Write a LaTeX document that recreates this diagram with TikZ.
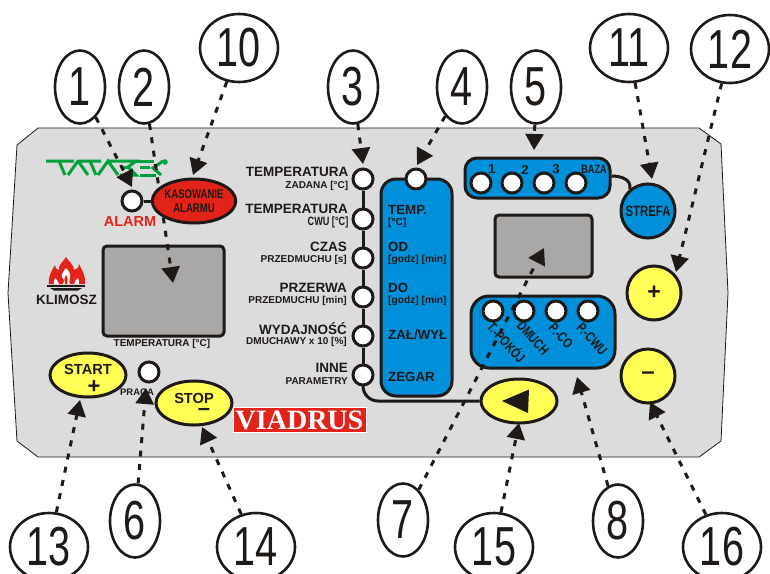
\documentclass[tikz,border=0pt]{standalone}
\usepackage{fontspec}
\setmainfont{Liberation Sans}
\newfontfamily\condf[FakeStretch=0.76]{Liberation Sans}
\newfontfamily\numf[FakeStretch=0.72]{Liberation Sans}
\newfontfamily\viaf{Liberation Serif}
\usetikzlibrary{shapes.geometric,arrows.meta}
\definecolor{ink}{HTML}{1F1A17}
\definecolor{panelc}{HTML}{DCDCDC}
\definecolor{bluec}{HTML}{0090DA}
\definecolor{yell}{HTML}{FFFF55}
\definecolor{redc}{HTML}{E2231A}
\definecolor{disp}{HTML}{A9A8A6}
\definecolor{greenc}{HTML}{00A03C}
\newcommand{\fs}[1]{\fontsize{#1}{#1}\selectfont}
\tikzset{
  callout/.style={draw=ink,line width=2.6pt,ellipse,inner sep=0pt,minimum width=50pt,minimum height=73pt,font=\numf\fs{55},text=ink},
  callwide/.style={callout,minimum width=78pt,minimum height=68pt},
  led/.style={circle,draw=ink,fill=white,line width=3pt,inner sep=0pt,minimum size=20pt},
  wire/.style={draw=ink,line width=3pt},
  bluebox/.style={draw=ink,fill=bluec,line width=3pt,inner sep=0pt},
  screen/.style={draw=ink,fill=disp,line width=3pt,inner sep=0pt,rounded corners=4pt},
  yellow oval/.style={ellipse,draw=ink,fill=yell,line width=3pt,inner sep=0pt,minimum width=76pt,minimum height=44pt},
  yellow disc/.style={circle,draw=ink,fill=yell,line width=3pt,inner sep=0pt,minimum size=54pt},
  pointer/.style={draw=ink,line width=3pt,dash pattern=on 6pt off 7.5pt,-{Triangle[length=16pt,width=18pt,fill=ink]}},
  main label/.style={anchor=east,inner sep=0pt,text=ink,font=\bfseries\fs{13.5}},
  sub label/.style={anchor=east,inner sep=0pt,text=ink,font=\bfseries\fs{10}},
  col main/.style={anchor=west,inner sep=0pt,text=ink,font=\bfseries\fs{13.3}},
  col sub/.style={anchor=west,inner sep=0pt,text=ink,font=\bfseries\fs{10.2}},
  slant label/.style={inner sep=0pt,text=ink,rotate=-48,font=\condf\bfseries\fs{14}},
}
\begin{document}
\begin{tikzpicture}[x=1pt,y=-1pt]
\clip (0,0) rectangle (770,573);
\fill[white] (0,0) rectangle (770,573);
% panel
\path[fill=panelc,draw=ink,line width=0.8pt] (38,128) -- (699,128) -- (721,144) -- (728,293) -- (721,441) -- (699,457) -- (38,457) -- (17,441) -- (8,293) -- (17,145) -- cycle;
% callouts
\node[callout] (c1) at (80,87) {1};
\node[callout] (c2) at (144,87) {2};
\node[callwide] (c10) at (239,48) {10};
\node[callout] (c3) at (353,87) {3};
\node[callout] (c4) at (462,87) {4};
\node[callout] (c5) at (536,87) {5};
\node[callwide] (c11) at (629,48) {11};
\node[callwide] (c12) at (730,49) {12};
\node[callout] (c6) at (135,521) {6};
\node[callout] (c7) at (403,520) {7};
\node[callout] (c8) at (618,521) {8};
\node[callwide] (c13) at (49,547) {13};
\node[callwide] (c14) at (256,547) {14};
\node[callwide] (c15) at (494,547) {15};
\node[callwide] (c16) at (722,547) {16};
% free ends of the pointers
\coordinate (t1) at (132,187);
\coordinate (t2) at (173,283);
\coordinate (t10) at (193,175);
\coordinate (t3) at (363,164);
\coordinate (t4) at (417,165);
\coordinate (t5) at (534,150);
\coordinate (t11) at (652,179);
\coordinate (t12) at (676,272);
\coordinate (t13) at (80,400);
\coordinate (t6) at (146,388);
\coordinate (t14) at (202,427);
\coordinate (t7) at (544,248);
\coordinate (t15) at (519,423);
\coordinate (t8) at (577,377);
\coordinate (t16) at (650,402);
% logo Tatarek
\begin{scope}[draw=greenc,line width=3pt,line cap=butt]
\draw (46,161) -- (74,161) (59,161) -- (65,175);
\draw (68,175) -- (78,161) -- (101,161) (78,161) -- (88,175) (90,161) -- (96,175);
\draw (98,175) -- (108,161) -- (118,175) (108,161) -- (136,161) -- (128,167) -- (136,175) -- (120,175);
\draw (122,167) -- (128,167) (136,161) -- (154,161) (140,167) -- (150,167) (140,175) -- (156,175);
\draw (163,161) -- (153,168) -- (161,175);
\fill[greenc] (165,162) circle (2.8);
\end{scope}
% logo Klimosz
\begin{scope}
\fill[redc] (66,257) .. controls (70,263) and (74,265) .. (74,270) .. controls (78,268) and (80,267) .. (79,264)
  .. controls (82,270) and (86,276) .. (85,284) -- (49,284) .. controls (48,276) and (52,270) .. (55,265) .. controls (55,268) and (56,269) .. (59,270) .. controls (58,265) and (63,262) .. cycle;
\fill[white] (66,268) .. controls (69,271) and (71,275) .. (70,278) .. controls (69,281) and (69,283) .. (70,284) -- (63,284) .. controls (65,281) and (64,279) .. (62,277) .. controls (61,274) and (64,271) .. cycle;
\fill[white] (55,278) .. controls (57,279) and (58,282) .. (59,284) -- (54,284) .. controls (54,282) and (54,280) .. cycle;
\fill[white] (78,278) .. controls (76,279) and (75,282) .. (74,284) -- (79,284) .. controls (79,282) and (79,280) .. cycle;
\fill[redc] (66,275) .. controls (68,278) and (68,281) .. (67,284) -- (65,284) .. controls (64,281) and (64,278) .. cycle;
\fill[ink] (47,285) rectangle (85,287.2);
\fill[ink] (50,288) -- (82,288) -- (78,290.5) -- (54,290.5) -- cycle;
\end{scope}
\node[inner sep=0pt,text=ink,font=\bfseries\fs{13.5}] (klimosz) at (66.5,299.5) {KLIMOSZ};
% main display and pointer 2, which runs behind the reset button
\node[screen,minimum width=121pt,minimum height=90pt] (screen1) at (163.5,291) {};
\draw[pointer] (c2) -- (t2);
\node[inner sep=0pt,text=ink,font=\bfseries\fs{10}] (tempc) at (162,344) {TEMPERATURA [°C]};
% alarm
\node[led] (alarm) at (132,201) {};
\node[ellipse,draw=ink,fill=redc,line width=3pt,inner sep=0pt,minimum width=76pt,minimum height=44pt,font=\condf\bfseries\fs{12.6},align=center,text=ink] (reset) at (194,201) {KASOWANIE\\[1pt]ALARMU};
\draw[wire] (alarm) -- (reset);
\node[inner sep=0pt,text=redc,font=\fs{14.5}\bfseries] (alarmt) at (130,222) {ALARM};
% start / stop
\node[yellow oval] (start) at (88,375) {};
\node[inner sep=0pt,text=ink,font=\bfseries\fs{14.6}] (startt) at (88,369) {START};
\node[inner sep=0pt,text=ink,font=\bfseries\fs{22}] (plus1) at (94,387) {+};
\node[led] (praca) at (149,372) {};
\node[inner sep=0pt,text=ink,font=\bfseries\fs{9.5}] (pracat) at (137,392) {PRACA};
\node[yellow oval] (stop) at (194,403) {};
\node[inner sep=0pt,text=ink,font=\bfseries\fs{14.6}] (stopt) at (194,398) {STOP};
\node[inner sep=0pt,text=ink,font=\bfseries\fs{22}] (minus1) at (204,412) {–};
\node[fill=redc,draw=white,line width=0.8pt,inner sep=0pt,minimum width=133pt,minimum height=25pt,text=white,font=\viaf\bfseries\fs{28}] (viadrus) at (299.5,420) {VIADRUS};
% left list
\node[led] (l1) at (363,179) {};
\node[led] (l2) at (363,219) {};
\node[led] (l3) at (363,258) {};
\node[led] (l4) at (363,297) {};
\node[led] (l5) at (363,336) {};
\node[led] (l6) at (363,375) {};
\node[yellow oval] (back) at (519,401) {};
\fill[ink] (502,401) -- (529,389.5) -- (528,413) -- cycle;
\draw[wire] (l1) -- (l2);
\draw[wire] (l2) -- (l3);
\draw[wire] (l3) -- (l4);
\draw[wire] (l4) -- (l5);
\draw[wire] (l5) -- (l6);
\draw[wire,rounded corners=15pt] (l6.south) -- (l6.south |- back.west) -- (back.west);
\node[main label] (a1) at (348.5,172) {TEMPERATURA};
\node[sub label] (b1) at (348.5,186) {ZADANA [°C]};
\node[main label] (a2) at (348,209) {TEMPERATURA};
\node[anchor=east,inner sep=0pt,text=ink,font=\condf\bfseries\fs{12}] (b2) at (348.5,222) {CWU [°C]};
\node[main label] (a3) at (347,247) {CZAS};
\node[sub label] (b3) at (347,260) {PRZEDMUCHU [s]};
\node[main label] (a4) at (347,288) {PRZERWA};
\node[sub label] (b4) at (347,301) {PRZEDMUCHU [min]};
\node[main label] (a5) at (347,329) {WYDAJNOŚĆ};
\node[sub label] (b5) at (347,342) {DMUCHAWY x 10 [\%]};
\node[main label] (a6) at (348,368) {INNE};
\node[sub label] (b6) at (348,381) {PARAMETRY};
% column
\node[bluebox,rounded corners=15pt,minimum width=71pt,minimum height=217pt] (col) at (416.5,287.5) {};
\node[led] (coltop) at (416,179) {};
\node[col main] (d1) at (388,210) {TEMP.};
\node[col sub] (e1) at (388,223) {[°C]};
\node[col main] (d2) at (388,247) {OD};
\node[col sub] (e2) at (388,260) {[godz] [min]};
\node[col main] (d3) at (388,288) {DO};
\node[col sub] (e3) at (388,301) {[godz] [min]};
\node[col main] (d4) at (388,335) {ZAŁ/WYŁ};
\node[col main] (d5) at (388,377) {ZEGAR};
% zone box
\node[bluebox,rounded corners=12pt,minimum width=145pt,minimum height=40pt] (zones) at (537.5,178) {};
\node[led] (z1) at (481,183) {};
\node[led] (z2) at (512,183) {};
\node[led] (z3) at (544,183) {};
\node[led] (z4) at (576,183) {};
\node[inner sep=0pt,text=ink,font=\bfseries\fs{13}] (n1) at (492,169.5) {1};
\node[inner sep=0pt,text=ink,font=\bfseries\fs{13}] (n2) at (525,169.5) {2};
\node[inner sep=0pt,text=ink,font=\bfseries\fs{13}] (n3) at (556,169.5) {3};
\node[inner sep=0pt,text=ink,font=\condf\bfseries\fs{12}] (n4) at (594,169.5) {BAZA};
\node[circle,draw=ink,fill=bluec,line width=3pt,inner sep=0pt,minimum size=54pt,font=\condf\bfseries\fs{15},text=ink] (strefa) at (648,211) {STREFA};
\draw[wire] (zones.east |- 0,176) .. controls (622,176) and (632,180) .. (strefa.130);
\node[screen,minimum width=97pt,minimum height=62pt] (screen2) at (543.5,246) {};
% mode box
\node[bluebox,rounded corners=18pt,minimum width=144pt,minimum height=72pt] (modes) at (543,332) {};
\node[led] (m1) at (493,311) {};
\node[led] (m2) at (524,311) {};
\node[led] (m3) at (556,311) {};
\node[led] (m4) at (588,311) {};
\node[slant label] (s1) at (507,342) {T.-POKÓJ};
\node[slant label] (s2) at (533,338) {DMUCH};
\node[slant label] (s3) at (561,336) {P.-CO};
\node[slant label] (s4) at (592,339) {P.-CWU};
% plus minus
\node[yellow disc,font=\bfseries\fs{23},text=ink] (plus2) at (654,293) {+};
\node[yellow disc,font=\bfseries\fs{24},text=ink] (minus2) at (648,376) {–};
% pointers
\draw[pointer] (c1) -- (t1);
\draw[pointer] (c10) -- (t10);
\draw[pointer] (c3) -- (t3);
\draw[pointer] (c4) -- (t4);
\draw[pointer] (c5) -- (t5);
\draw[pointer] (c11) -- (t11);
\draw[pointer] (c12) -- (t12);
\draw[pointer] (c13) -- (t13);
\draw[pointer] (c6) -- (t6);
\draw[pointer] (c14) -- (t14);
\draw[pointer] (c7) -- (t7);
\draw[pointer] (c15) -- (t15);
\draw[pointer] (c8) -- (t8);
\draw[pointer] (c16) -- (t16);
\end{tikzpicture}
\end{document}
